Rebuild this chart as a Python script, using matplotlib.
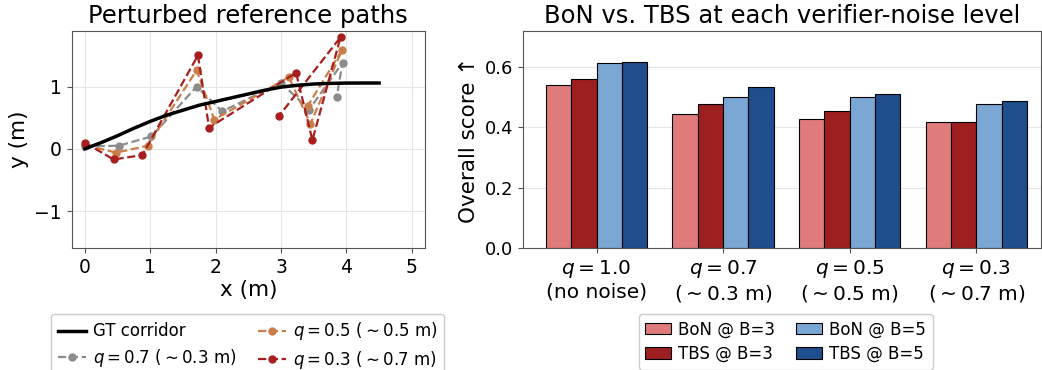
import numpy as np
import matplotlib.pyplot as plt

# ---- left panel: ground-truth corridor and perturbed paths ----
gt_x = [0.0, 0.25, 0.5, 0.75, 1.0, 1.25, 1.5, 1.75, 2.0, 2.25, 2.5,
        2.75, 3.0, 3.25, 3.5, 3.75, 4.0, 4.25, 4.5]
gt_y = [0.0, 0.10, 0.21, 0.33, 0.44, 0.54, 0.62, 0.70, 0.76, 0.82, 0.88,
        0.94, 0.99, 1.02, 1.04, 1.05, 1.055, 1.056, 1.056]

q07_x = [0.0, 0.52, 1.02, 1.71, 2.10, 3.00, 3.43, 3.94, 3.85]
q07_y = [0.04, 0.05, 0.20, 1.00, 0.60, 1.06, 0.63, 1.38, 0.83]

q05_x = [0.0, 0.48, 0.96, 1.71, 1.98, 3.12, 3.45, 3.93, 3.41]
q05_y = [0.06, -0.06, 0.05, 1.26, 0.47, 1.15, 0.40, 1.58, 0.69]

q03_x = [0.0, 0.44, 0.88, 1.73, 1.90, 3.23, 3.48, 3.91, 2.97]
q03_y = [0.10, -0.17, -0.10, 1.50, 0.34, 1.22, 0.14, 1.79, 0.53]

path_labels = [r"$q=0.7$ ($\sim0.3$ m)", r"$q=0.5$ ($\sim0.5$ m)",
               r"$q=0.3$ ($\sim0.7$ m)"]
path_colors = ["#8c8c8c", "#c97f4a", "#a81e1e"]

# ---- right panel: BoN vs TBS scores ----
groups = ["$q=1.0$\n(no noise)", "$q=0.7$\n($\\sim0.3$ m)",
          "$q=0.5$\n($\\sim0.5$ m)", "$q=0.3$\n($\\sim0.7$ m)"]
bon_b3 = [0.540, 0.443, 0.429, 0.417]
tbs_b3 = [0.560, 0.479, 0.456, 0.419]
bon_b5 = [0.615, 0.501, 0.500, 0.477]
tbs_b5 = [0.617, 0.533, 0.512, 0.489]
bar_labels = ["BoN @ B=3", "TBS @ B=3", "BoN @ B=5", "TBS @ B=5"]
bar_colors = ["#e07b7b", "#9e1f20", "#7ba7d4", "#1f4e8c"]

fig = plt.figure(figsize=(10.42, 3.7), dpi=100)
spine_col = "#555555"

# left axes
ax1 = fig.add_axes([0.0688, 0.3297, 0.339, 0.5865])
ax1.plot(gt_x, gt_y, color="black", lw=2.5, label="GT corridor", zorder=3)
for (xs, ys), lab, col in zip([(q07_x, q07_y), (q05_x, q05_y), (q03_x, q03_y)],
                              path_labels, path_colors):
    ax1.plot(xs, ys, "--o", color=col, lw=1.6, ms=5, label=lab, zorder=2)
ax1.set_xlim(-0.2, 5.2)
ax1.set_ylim(-1.59, 1.89)
ax1.set_xticks([0, 1, 2, 3, 4, 5])
ax1.set_yticks([-1, 0, 1])
ax1.grid(True, color="#e6e6e6", lw=0.8)
ax1.set_axisbelow(True)
ax1.set_title("Perturbed reference paths", fontsize=17.5)
ax1.set_xlabel("x (m)", fontsize=15.5, labelpad=2)
ax1.set_ylabel("y (m)", fontsize=15.5)
ax1.tick_params(labelsize=13.5, color=spine_col)
for s in ax1.spines.values():
    s.set_color(spine_col)
ax1.legend(loc="upper center", bbox_to_anchor=(0.2375, 0.152),
           bbox_transform=fig.transFigure, ncol=2, fontsize=12,
           handlelength=1.7, handletextpad=0.4, columnspacing=1.3,
           labelspacing=0.4, borderaxespad=0, framealpha=1,
           edgecolor="#cccccc")

# right axes
ax2 = fig.add_axes([0.502, 0.3297, 0.497, 0.5865])
x = np.arange(len(groups))
width = 0.2
for k, (vals, lab, col) in enumerate(zip([bon_b3, tbs_b3, bon_b5, tbs_b5],
                                         bar_labels, bar_colors)):
    ax2.bar(x + (k - 1.5) * width, vals, width, color=col, label=lab,
            edgecolor="black", linewidth=0.8)
ax2.set_xlim(-0.58, 3.51)
ax2.set_ylim(0, 0.72)
ax2.set_yticks([0.0, 0.2, 0.4, 0.6])
ax2.set_xticks(x)
ax2.set_xticklabels(groups, fontsize=14.5)
ax2.grid(True, axis="y", color="#e6e6e6", lw=0.8)
ax2.set_axisbelow(True)
ax2.set_title("BoN vs. TBS at each verifier-noise level", fontsize=17.5)
ax2.set_ylabel("Overall score \u2191", fontsize=15.5)
ax2.tick_params(axis="y", labelsize=13)
ax2.tick_params(color=spine_col)
for s in ax2.spines.values():
    s.set_color(spine_col)
ax2.legend(loc="upper center", bbox_to_anchor=(0.754, 0.152),
           bbox_transform=fig.transFigure, ncol=2, fontsize=12,
           handlelength=1.56, handletextpad=0.42, columnspacing=1.26,
           labelspacing=0.4, borderaxespad=0, framealpha=1,
           edgecolor="#cccccc")

fig.savefig("out.png", dpi=100)
